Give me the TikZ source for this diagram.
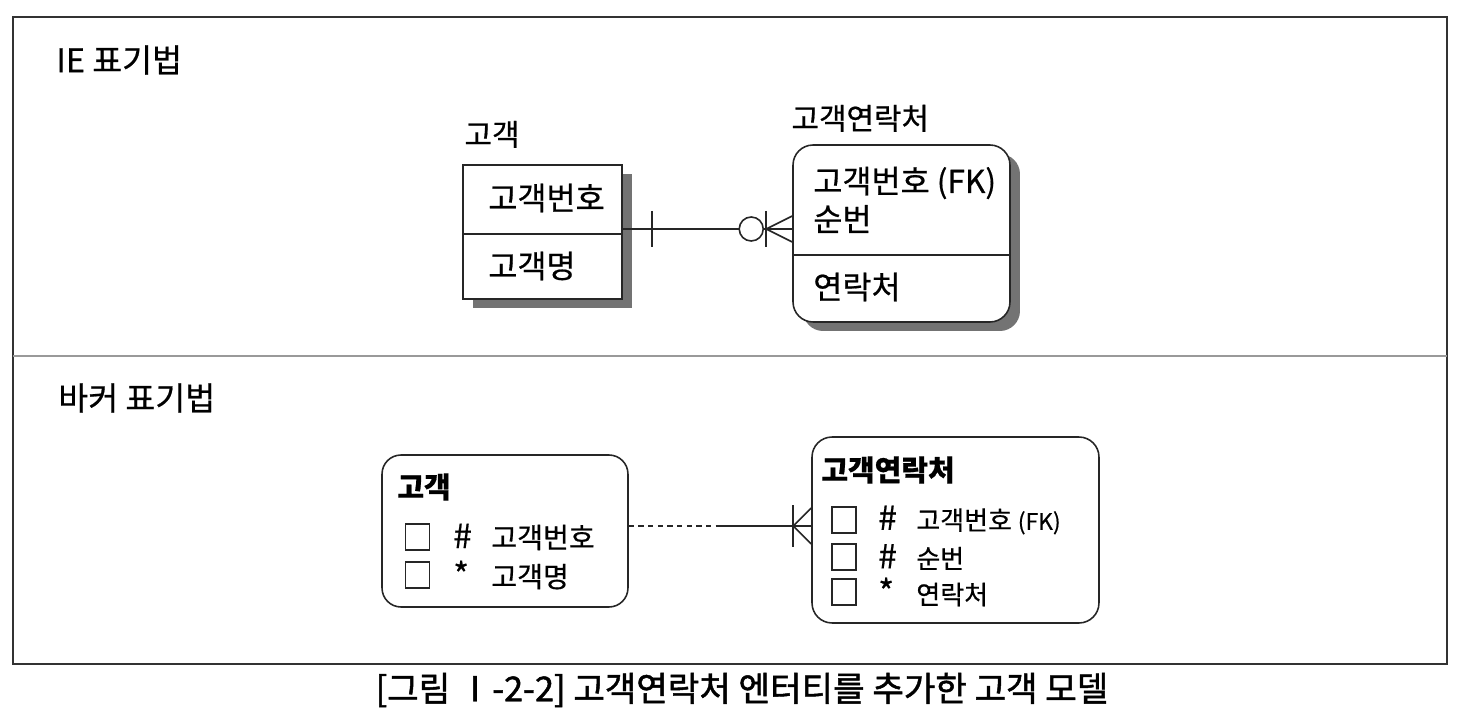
\documentclass[tikz,border=0pt]{standalone}
\usepackage{fontspec}
\setmainfont{Noto Sans CJK KR}[FakeBold=0.6]
\newfontfamily\captionfont{Noto Sans CJK KR}[FakeBold=1.4]
\usetikzlibrary{positioning, calc, shadows}
\tikzset{
    frame/.style={draw=black!80, line width=1.2pt},
    divider/.style={draw=black!40, line width=0.6pt},
    line/.style={draw=black!85, line width=0.9pt},
    section/.style={anchor=west, inner sep=0pt, font=\fontsize{18.5}{22}\selectfont},
    ie entity/.style={draw=black!85, line width=0.9pt, fill=white, drop shadow={shadow xshift=0.2cm, shadow yshift=-0.18cm, fill=black!55, opacity=1}},
    bk entity/.style={draw=black!85, line width=0.9pt, rounded corners=0.38cm},
    ie title/.style={inner sep=0pt, font=\fontsize{17}{20}\selectfont},
    ie attr/.style={anchor=west, inner sep=0pt, font=\fontsize{18}{21}\selectfont},
    bk title/.style={anchor=west, inner sep=0pt, font=\bfseries\fontsize{16.5}{20}\selectfont},
    bk attr/.style={anchor=west, inner sep=0pt, font=\fontsize{14.8}{18}\selectfont},
    keybox/.style={draw=black!85, line width=0.8pt, minimum width=0.48cm, minimum height=0.52cm, inner sep=0pt},
    caption/.style={font=\captionfont\fontsize{19.5}{23}\selectfont}
}
\newcommand{\attrmark}[1]{\makebox[0.76cm][l]{\fontsize{19}{20}\selectfont #1}}

\begin{document}
\begin{tikzpicture}[x=0.02cm, y=-0.02cm]
    \useasboundingbox (0,0) rectangle (1458,726);

    % --- Frame ---
    \draw[frame] (13,17) rectangle (1447,664);
    \draw[divider] (13,356) -- (1447,356);
    \node (ieLabel) [section] at (56,60) {IE 표기법};
    \node (bkLabel) [section] at (58,398) {바커 표기법};

    % --- IE notation ---
    \node (ieCust) [ie entity, minimum width=3.18cm, minimum height=2.68cm] at (542.5,232) {};
    \node (ieCustTitle) [ie title, above right=0.32cm and 0.04cm of ieCust.north west] {고객};
    \draw[line] (ieCust.west |- 0,234) -- (ieCust.east |- 0,234);
    \node (ieCustKey) [ie attr] at (488,198) {고객번호};
    \node (ieCustName) [ie attr] at (488,266) {고객명};

    \node (ieCont) [ie entity, rounded corners=0.4cm, minimum width=4.34cm, minimum height=3.54cm] at (901.5,233.5) {};
    \node (ieContTitle) [ie title, above right=0.24cm and -0.02cm of ieCont.north west] {고객연락처};
    \draw[line] (ieCont.west |- 0,255) -- (ieCont.east |- 0,255);
    \node (ieContKey) [ie attr] at (813,183) {고객번호 (FK)};
    \node (ieContSeq) [ie attr] at (813,219) {순번};
    \node (ieContTel) [ie attr] at (813,287) {연락처};

    % --- IE relationship ---
    \coordinate (ieRel) at (0,229);
    \draw[line] (ieCust.east |- ieRel) coordinate (ieA) -- (ieCont.west |- ieRel) coordinate (ieB);
    \draw[line] ($(ieA)+(29,-18)$) -- ($(ieA)+(29,18)$);
    \draw[line, fill=white] ($(ieB)+(-41,0)$) circle[radius=0.24cm];
    \draw[line] ($(ieB)+(-26,-18)$) -- ($(ieB)+(-26,18)$);
    \draw[line] ($(ieB)+(0,-13)$) -- ($(ieB)+(-26,0)$) -- ($(ieB)+(0,13)$);

    % --- Barker notation ---
    \node (bkCust) [bk entity, minimum width=4.92cm, minimum height=3.04cm] at (505,531) {};
    \node (bkCustTitle) [bk title] at (397,487) {고객};
    \node (bkCustBox1) [keybox] at (417.5,537) {};
    \node (bkCustBox2) [keybox] at (417.5,575) {};
    \node (bkCustKey) [bk attr, font=\fontsize{16}{19}\selectfont] at (453,537) {\attrmark{\#}고객번호};
    \node (bkCustName) [bk attr, font=\fontsize{16}{19}\selectfont] at (453,575) {\attrmark{*}고객명};

    \node (bkCont) [bk entity, rounded corners=0.4cm, minimum width=5.74cm, minimum height=3.72cm] at (955.5,530) {};
    \node (bkContTitle) [bk title] at (821,470) {고객연락처};
    \node (bkContBox1) [keybox] at (844,520) {};
    \node (bkContBox2) [keybox] at (844,557) {};
    \node (bkContBox3) [keybox] at (844,592) {};
    \node (bkContKey) [bk attr] at (878,520) {\attrmark{\#}고객번호 {\fontsize{13}{15}\selectfont (FK)}};
    \node (bkContSeq) [bk attr] at (878,557) {\attrmark{\#}순번};
    \node (bkContTel) [bk attr] at (878,592) {\attrmark{*}연락처};

    % --- Barker relationship ---
    \coordinate (bkRel) at (0,526);
    \draw[line, dash pattern=on 3pt off 2.5pt] (bkCust.east |- bkRel) coordinate (bkA) -- ($(bkA)+(89,0)$) coordinate (bkM);
    \draw[line] (bkM) -- (bkCont.west |- bkRel) coordinate (bkB);
    \draw[line] ($(bkB)+(-18,-21)$) -- ($(bkB)+(-18,21)$);
    \draw[line] ($(bkB)+(0,-18)$) -- ($(bkB)+(-18,0)$) -- ($(bkB)+(0,18)$);

    % --- Caption ---
    \node (caption) [caption] at (742,690) {[그림 Ⅰ-2-2] 고객연락처 엔터티를 추가한 고객 모델};
\end{tikzpicture}
\end{document}
